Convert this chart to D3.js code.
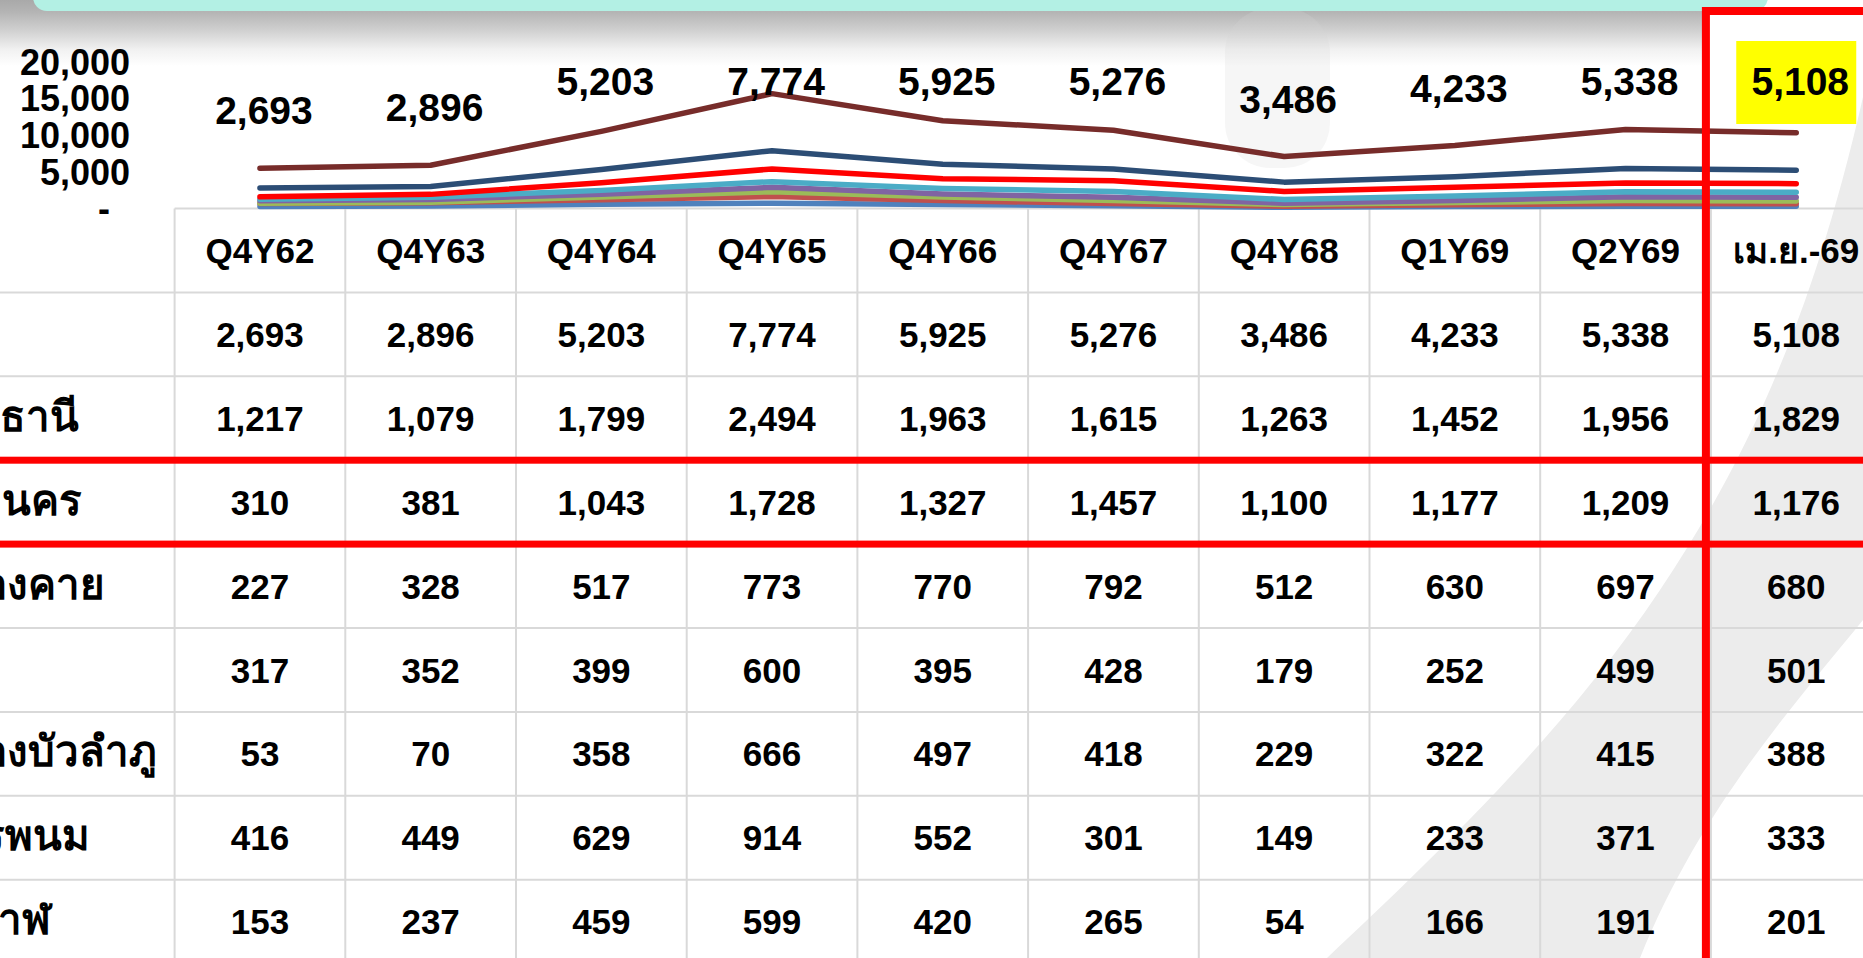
<!DOCTYPE html>
<html>
<head>
<meta charset="utf-8">
<script src="https://cdn.jsdelivr.net/npm/d3@7"></script>
<style>
  html, body { margin: 0; padding: 0; background: #ffffff; overflow: hidden; }
  svg { display: block; }
  text { font-family: "Liberation Sans", Arial, "Noto Sans", sans-serif; font-weight: bold; fill: #000; }
</style>
</head>
<body>
<div class="chart"></div>
<script>
// column headers
const categories = ["Q4Y62", "Q4Y63", "Q4Y64", "Q4Y65", "Q4Y66", "Q4Y67", "Q4Y68", "Q1Y69", "Q2Y69", "เม.ย.-69"];

// table rows (top to bottom)
const rowLabels = ["รวม", "อุดรธานี", "สกลนคร", "หนองคาย", "เลย", "หนองบัวลำภู", "นครพนม", "บึงกาฬ"];
const totalValues   = [2693, 2896, 5203, 7774, 5925, 5276, 3486, 4233, 5338, 5108];
const udonValues    = [1217, 1079, 1799, 2494, 1963, 1615, 1263, 1452, 1956, 1829];
const sakonValues   = [310, 381, 1043, 1728, 1327, 1457, 1100, 1177, 1209, 1176];
const nongkhaiValues = [227, 328, 517, 773, 770, 792, 512, 630, 697, 680];
const loeiValues    = [317, 352, 399, 600, 395, 428, 179, 252, 499, 501];
const nongbuaValues = [53, 70, 358, 666, 497, 418, 229, 322, 415, 388];
const phanomValues  = [416, 449, 629, 914, 552, 301, 149, 233, 371, 333];
const buengkanValues = [153, 237, 459, 599, 420, 265, 54, 166, 191, 201];

// y axis ticks
const yTicks = [0, 5000, 10000, 15000, 20000];

const rows = [totalValues, udonValues, sakonValues, nongkhaiValues, loeiValues, nongbuaValues, phanomValues, buengkanValues];

// stacked lines: first key is the bottom of the stack
const stackKeys = [7, 6, 5, 4, 3, 2, 1, 0];
const lineColors = ["#4f81bd", "#c0504d", "#9bbb59", "#8064a2", "#4bacc6", "#ff0000", "#2c4d75", "#772c2a"];

const W = 1863, H = 958;

const svg = d3.select(".chart").append("svg")
    .attr("width", W)
    .attr("height", H);

const defs = svg.append("defs");
const grad = defs.append("linearGradient")
    .attr("id", "shadow").attr("x1", 0).attr("y1", 0).attr("x2", 0).attr("y2", 1);
[[0, "#a9a9a9"], [0.18, "#b4b4b4"], [0.45, "#cfcfcf"], [0.75, "#f1f1f1"], [1, "#ffffff"]]
    .forEach(s => grad.append("stop").attr("offset", s[0]).attr("stop-color", s[1]));

svg.append("rect").attr("width", W).attr("height", H).attr("fill", "#ffffff");

// faint background swoosh
svg.append("path")
    .attr("d", "M1327,958 C1420,870 1560,740 1660,590 C1740,470 1810,330 1863,97 L1863,620 C1790,710 1700,810 1640,958 Z")
    .attr("fill", "#ececec");

// shadow under the banner
svg.append("rect")
    .attr("x", 0).attr("y", 0).attr("width", 1705).attr("height", 66)
    .attr("fill", "url(#shadow)");
svg.append("rect")
    .attr("x", 1225).attr("y", 8).attr("width", 105).attr("height", 160).attr("rx", 45)
    .attr("fill", "#d8d8d8").attr("opacity", 0.22);

// banner
svg.append("rect")
    .attr("x", 33).attr("y", -30).attr("width", 1735).attr("height", 41).attr("rx", 14)
    .attr("fill", "#b3f0e4");

// table layout
const x = d3.scaleBand()
    .domain(categories)
    .range([174.6, 174.6 + 170.7 * categories.length])
    .padding(0);

const tableTop = 208.5;
const rowH = 83.9;
const nRows = rows.length + 1;

const grid = svg.append("g").attr("stroke", "#d9d9d9").attr("stroke-width", 2);
d3.range(nRows + 1).forEach(i => {
    grid.append("line")
        .attr("x1", i === 0 ? x.range()[0] : 0).attr("x2", W)
        .attr("y1", tableTop + i * rowH).attr("y2", tableTop + i * rowH);
});
categories.forEach(c => {
    grid.append("line")
        .attr("x1", x(c)).attr("x2", x(c))
        .attr("y1", tableTop).attr("y2", H);
});

const fs = 35;
// header row
svg.append("g").selectAll("text")
    .data(categories)
    .join("text")
    .attr("x", d => x(d) + x.bandwidth() / 2)
    .attr("y", tableTop + rowH / 2 + fs * 0.36)
    .attr("text-anchor", "middle")
    .style("font-size", fs + "px")
    .text(d => d);

// data rows
rows.forEach((vals, r) => {
    const cy = tableTop + (r + 1.5) * rowH;
    const g = svg.append("g");
    g.append("text")
        .attr("x", -75)
        .attr("y", cy + fs * 0.36)
        .style("font-size", "42px")
        .text(rowLabels[r]);
    g.selectAll("text.v")
        .data(vals)
        .join("text")
        .attr("class", "v")
        .attr("x", (d, i) => x(categories[i]) + x.bandwidth() / 2)
        .attr("y", cy + fs * 0.36)
        .attr("text-anchor", "middle")
        .style("font-size", fs + "px")
        .text(d => d3.format(",")(d));
});

// chart
const y = d3.scaleLinear()
    .domain([0, 20000])
    .range([207.7, 61]);

const tableData = categories.map((c, i) => {
    const o = { cat: c };
    stackKeys.forEach(k => { o[k] = rows[k][i]; });
    return o;
});
const series = d3.stack().keys(stackKeys)(tableData);

const line = d3.line()
    .x(d => x(d.data.cat) + x.bandwidth() / 2)
    .y(d => y(d[1]));

svg.append("g").selectAll("path")
    .data(series)
    .join("path")
    .attr("fill", "none")
    .attr("stroke", (d, i) => lineColors[i])
    .attr("stroke-width", 5.5)
    .attr("stroke-linecap", "round")
    .attr("stroke-linejoin", "round")
    .attr("d", line);

// total labels above the top line
const topSeries = series[series.length - 1];
const lfs = 39;
const labelY = i => Math.max(y(topSeries[i][1]) - 58, 81);
const last = categories.length - 1;

svg.append("rect")
    .attr("x", x(categories[last]) + x.bandwidth() / 2 - 60)
    .attr("y", labelY(last) - 40)
    .attr("width", 120).attr("height", 83)
    .attr("fill", "#ffff00");

svg.append("g").selectAll("text")
    .data(totalValues)
    .join("text")
    .attr("x", (d, i) => x(categories[i]) + x.bandwidth() / 2 + 4)
    .attr("y", (d, i) => labelY(i) + lfs * 0.36)
    .attr("text-anchor", "middle")
    .style("font-size", lfs + "px")
    .text(d => d3.format(",")(d));

// y axis
const yAxis = svg.append("g")
    .attr("transform", "translate(130,0)")
    .call(d3.axisLeft(y).tickValues(yTicks).tickSize(0).tickPadding(0)
        .tickFormat(d => d === 0 ? "-\u00a0\u00a0" : d3.format(",")(d)));
yAxis.select(".domain").remove();
yAxis.selectAll("text")
    .attr("dy", null)
    .attr("y", fs * 0.36 + 0.5)
    .style("font-size", "36px")
    .style("font-family", "'Liberation Sans', Arial, sans-serif")
    .style("font-weight", "bold")
    .attr("fill", "#000");

// red highlight boxes
svg.append("rect")
    .attr("x", -10).attr("y", tableTop + 3 * rowH)
    .attr("width", W + 20).attr("height", rowH)
    .attr("fill", "none").attr("stroke", "#ff0000").attr("stroke-width", 7);
svg.append("rect")
    .attr("x", x(categories[last]) - 5).attr("y", 11)
    .attr("width", 250).attr("height", H + 50)
    .attr("fill", "none").attr("stroke", "#ff0000").attr("stroke-width", 8);
</script>
</body>
</html>
